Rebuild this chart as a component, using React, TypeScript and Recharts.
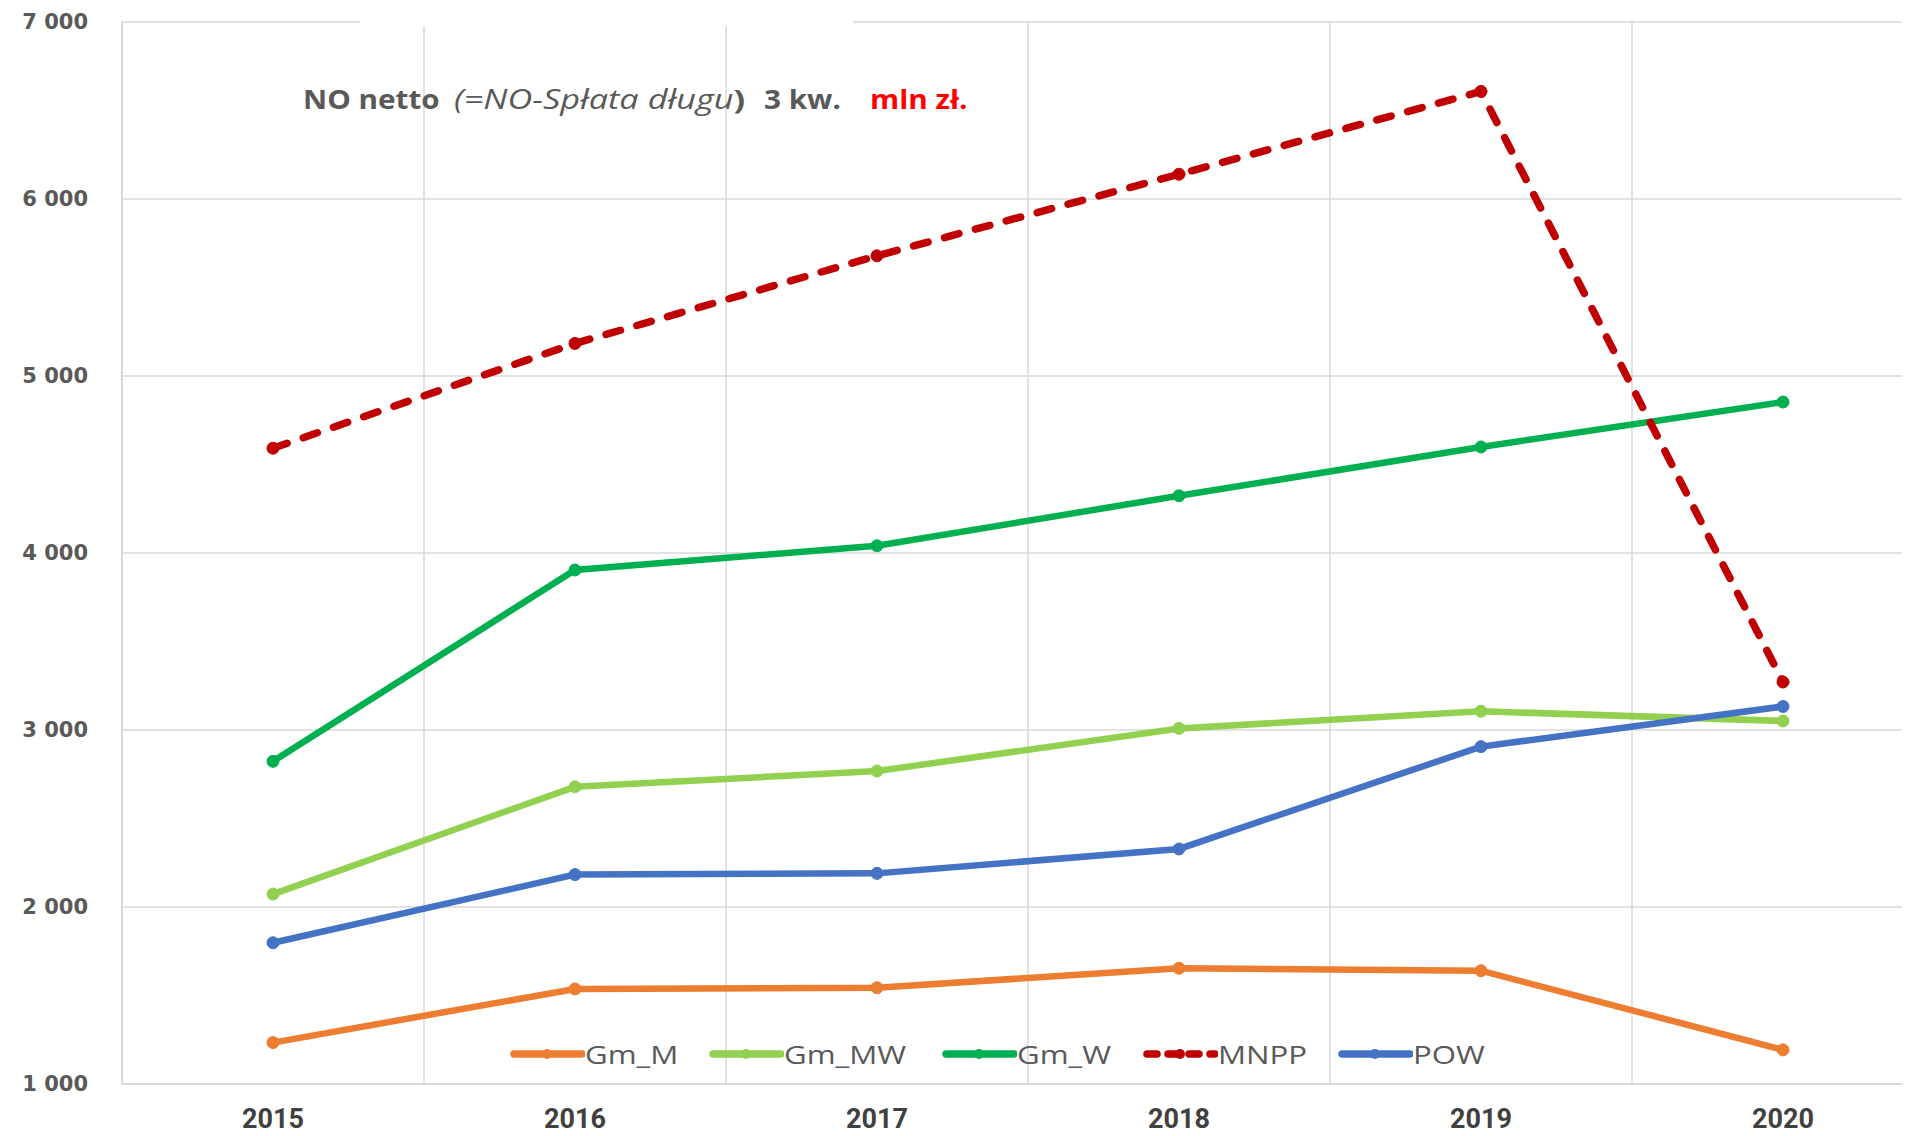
import { LineChart, Line, XAxis, YAxis, CartesianGrid } from "recharts";

const years = ["2015", "2016", "2017", "2018", "2019", "2020"];
const gmM = [1234, 1537, 1544, 1654, 1640, 1193];
const gmMW = [2073, 2679, 2768, 3009, 3106, 3051];
const gmW = [2823, 3904, 4041, 4323, 4599, 4853];
const mnpp = [4592, 5184, 5679, 6140, 6608, 3271];
const pow = [1798, 2183, 2190, 2328, 2906, 3133];
const yTicks = [1000, 2000, 3000, 4000, 5000, 6000, 7000];

const data = years.map((year, i) => ({
  year,
  Gm_M: gmM[i],
  Gm_MW: gmMW[i],
  Gm_W: gmW[i],
  MNPP: mnpp[i],
  POW: pow[i],
}));

const series = [
  { key: "Gm_M", color: "#ED7D31", dash: undefined, legendX: 509 },
  { key: "Gm_MW", color: "#92D050", dash: undefined, legendX: 708 },
  { key: "Gm_W", color: "#00B050", dash: undefined, legendX: 941 },
  { key: "MNPP", color: "#C00000", dash: "15 17", legendX: 1142 },
  { key: "POW", color: "#4472C4", dash: undefined, legendX: 1337 },
];

const fmt = (v: number) => String(v).replace(/\B(?=(\d{3})+(?!\d))/g, " ");

function LegendBox() {
  return (
    <>
      {series.map((s) => (
        <div
          key={s.key}
          style={{
            position: "absolute",
            left: s.legendX,
            top: 1037,
            height: 34,
            display: "flex",
            alignItems: "center",
            fontFamily: "Open Sans",
            fontSize: 26,
            color: "#595959",
            whiteSpace: "pre",
          }}
        >
          <svg width={76} height={20}>
            <line x1={5} y1={10} x2={73} y2={10} stroke={s.color} strokeWidth={7.5}
              strokeDasharray={s.dash ? "10 11" : undefined} strokeLinecap="round" />
            <circle cx={38} cy={10} r={5} fill={s.color} />
          </svg>
          <span style={{ display: "inline-block", transform: "scaleX(1.2)", transformOrigin: "left center" }}>
            {s.key}
          </span>
        </div>
      ))}
    </>
  );
}

export default function App() {
  const t = (left: number, sx: number) => ({
    position: "absolute" as const,
    left,
    top: 80,
    fontFamily: "Open Sans",
    fontSize: 27,
    color: "#595959",
    whiteSpace: "pre" as const,
    display: "inline-block",
    transform: `scaleX(${sx})`,
    transformOrigin: "left center",
  });
  return (
    <div style={{ margin: -8, width: 1910, height: 1136, overflow: "hidden", position: "relative", background: "#fff" }}>
      <LineChart width={1960} height={1136} data={data} margin={{ top: 22, right: 26, left: 0, bottom: 0 }}>
        <CartesianGrid
          stroke="#d9d9d9"
          strokeWidth={1.5}
          verticalCoordinatesGenerator={({ offset }: any) =>
            Array.from({ length: 7 }, (_, i) => offset.left + (i * offset.width) / 6)
          }
        />
        <XAxis
          dataKey="year"
          height={52}
          padding={{ left: 151, right: 151 }}
          tickLine={false}
          axisLine={{ stroke: "#d9d9d9", strokeWidth: 2 }}
          tickMargin={19}
          tick={{ fill: "#404040", fontFamily: "Roboto", fontWeight: "bold", fontSize: 27 }}
        />
        <YAxis
          width={122}
          domain={[1000, 7000]}
          ticks={yTicks}
          tickFormatter={fmt}
          tickLine={false}
          axisLine={{ stroke: "#d9d9d9", strokeWidth: 2 }}
          tickMargin={28}
          tick={{ fill: "#595959", fontFamily: "DejaVu Sans", fontWeight: "bold", fontSize: 21 }}
        />
        {series.map((s) => (
          <Line
            key={s.key}
            dataKey={s.key}
            stroke={s.color}
            strokeWidth={s.dash ? 7.5 : 6.5}
            strokeDasharray={s.dash}
            strokeLinecap={s.dash ? "round" : "butt"}
            dot={{ r: 6, fill: s.color, stroke: s.color, strokeWidth: 1, strokeDasharray: "" }}
            isAnimationActive={false}
          />
        ))}
      </LineChart>
      <LegendBox />
      <div style={{ position: "absolute", left: 360, top: 0, width: 493, height: 26, background: "#fff" }} />
      <span style={{ ...t(303, 1.1), fontWeight: "bold" }}>NO netto</span>
      <span style={t(454, 1.27)}>
        <i>(=NO-Spłata długu</i><b>)</b>
      </span>
      <span style={{ ...t(764, 1.1), fontWeight: "bold" }}>3 kw.</span>
      <span style={{ ...t(870, 1.1), fontWeight: "bold", color: "#FF0000" }}>mln zł.</span>
    </div>
  );
}
